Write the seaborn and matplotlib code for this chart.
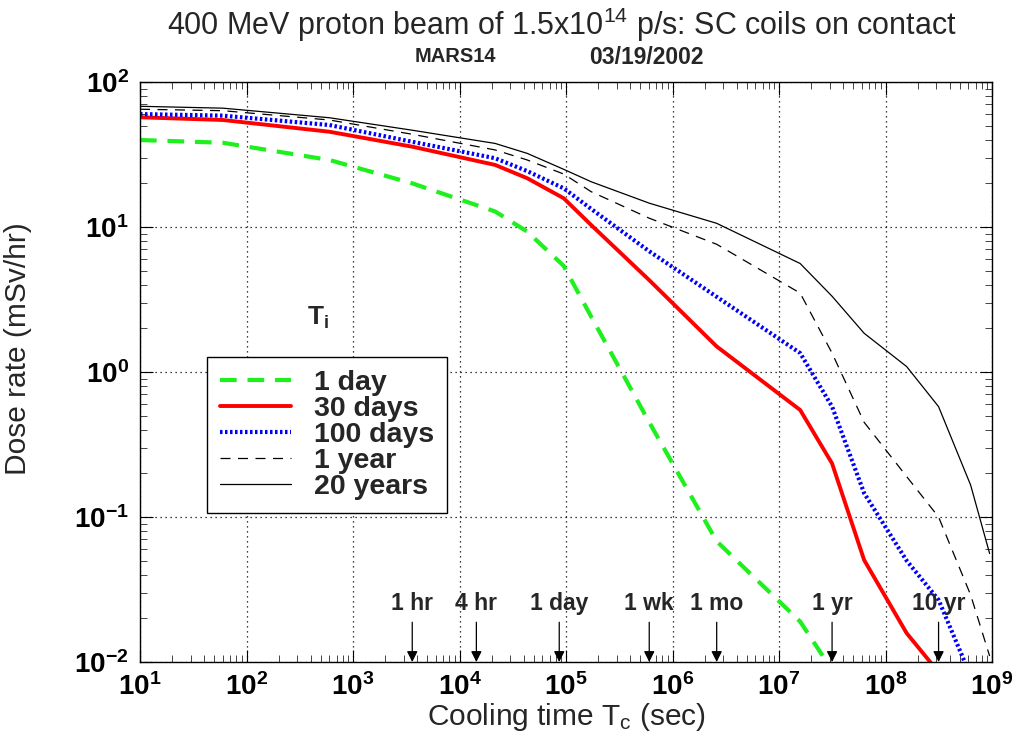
import numpy as np
import pandas as pd
import matplotlib
matplotlib.use("Agg")
import matplotlib.pyplot as plt
import seaborn as sns
from matplotlib.ticker import FixedLocator, FuncFormatter, LogLocator, NullFormatter

# ---- data ----
times = [10, 60, 600, 3600, 21600, 43200, 95000, 172800, 604800, 2.6e6,
         1.58e7, 3.15e7, 6.3e7, 1.58e8, 3.15e8, 6.3e8, 9.5e8]
dose_1day = [39.8, 38.1, 29.0, 20.0, 12.8, 9.3, 5.4, 2.4, 0.45, 0.068, 0.019, 0.0088]
dose_30days = [57.1, 54.7, 45.4, 35.8, 26.8, 21.7, 15.8, 10.3, 4.3, 1.5, 0.547,
               0.234, 0.0505, 0.0158, 0.0085]
dose_100days = [60.1, 58.6, 50.5, 38.7, 29.8, 24.3, 18.5, 13.3, 6.8, 3.3, 1.35,
                0.577, 0.146, 0.05, 0.0268, 0.008]
dose_1year = [64.9, 63.4, 54.7, 43.6, 34.0, 29.0, 23.2, 17.5, 11.5, 7.6, 3.5,
              1.35, 0.45, 0.19, 0.1, 0.029, 0.011]
dose_20years = [68.0, 66.0, 56.7, 46.5, 37.7, 32.2, 25.0, 20.5, 14.6, 10.6, 5.6,
                3.33, 1.85, 1.09, 0.577, 0.166, 0.056]
series_labels = ["1 day", "30 days", "100 days", "1 year", "20 years"]

mark_labels = ["1 hr", "4 hr", "1 day", "1 wk", "1 mo", "1 yr", "10 yr"]
mark_times = [3600, 14400, 86400, 604800, 2.6e6, 3.15e7, 3.15e8]

title = "400 MeV proton beam of 1.5x10$^{14}$ p/s: SC coils on contact"

# ---- style ----
sns.set_style("ticks")
from matplotlib import font_manager
names = {f.name for f in font_manager.fontManager.ttflist}
fam = "Liberation Sans" if "Liberation Sans" in names else "DejaVu Sans"
plt.rcParams["font.family"] = [fam, "DejaVu Sans"]
plt.rcParams["mathtext.fontset"] = "custom"
plt.rcParams["mathtext.rm"] = fam
plt.rcParams["mathtext.bf"] = fam + ":bold"
plt.rcParams["mathtext.it"] = fam + ":italic"
plt.rcParams["mathtext.default"] = "regular"

fig = plt.figure(figsize=(10.15, 7.31), dpi=100)
ax = fig.add_axes([140 / 1015, 1 - 662 / 731, 852 / 1015, 580 / 731])

styles = [
    dict(color="#1ef01e", lw=3.0, dashes=(4, 2.6)),
    dict(color="#ff0000", lw=2.8),
    dict(color="#0000ff", lw=3.0, dashes=(0.6, 0.6)),
    dict(color="black", lw=0.9, dashes=(8, 6)),
    dict(color="black", lw=0.9),
]
all_vals = [dose_1day, dose_30days, dose_100days, dose_1year, dose_20years]
for lab, vals, st in zip(series_labels, all_vals, styles):
    df = pd.DataFrame({"t": times[:len(vals)], "d": vals})
    st = dict(st)
    dashes = st.pop("dashes", None)
    line_ax = sns.lineplot(data=df, x="t", y="d", ax=ax, label=lab, **st)
    if dashes is not None:
        line_ax.get_lines()[-1].set_dashes(dashes)

ax.set_xscale("log")
ax.set_yscale("log")
ax.set_xlim(10, 1e9)
ax.set_ylim(1e-2, 1e2)

fmt = FuncFormatter(lambda v, p: r"$\mathbf{10^{%d}}$" % int(round(np.log10(v))))
ax.xaxis.set_major_locator(FixedLocator([10.0 ** k for k in range(1, 10)]))
ax.yaxis.set_major_locator(FixedLocator([10.0 ** k for k in range(-2, 3)]))
ax.xaxis.set_major_formatter(fmt)
ax.yaxis.set_major_formatter(fmt)
ax.xaxis.set_minor_locator(LogLocator(base=10, subs=np.arange(2, 10), numticks=20))
ax.yaxis.set_minor_locator(LogLocator(base=10, subs=np.arange(2, 10), numticks=20))
ax.xaxis.set_minor_formatter(NullFormatter())
ax.yaxis.set_minor_formatter(NullFormatter())
ax.tick_params(which="major", direction="in", length=9, width=0.8,
               top=True, right=True, labelsize=20, pad=8, colors="black")
ax.tick_params(which="minor", direction="in", length=5, width=0.6,
               top=True, right=True)
for s in ax.spines.values():
    s.set_linewidth(1.0)
    s.set_color("black")

ax.grid(True, which="major", linestyle=(0, (1, 3)), color="black", lw=0.9)

ax.set_xlabel("Cooling time T$_c$ (sec)", fontsize=21.5, labelpad=0)
ax.set_ylabel("Dose rate (mSv/hr)", fontsize=21.5)
ax.yaxis.set_label_coords(-0.127, 0.54)

fig.text(562 / 1015, 1 - 25 / 731, title, ha="center", va="center", fontsize=22)
fig.text(455 / 1015, 1 - 57 / 731, "MARS14", ha="center", va="center",
         fontsize=14.5, fontweight="bold")
fig.text(646 / 1015, 1 - 57 / 731, "03/19/2002", ha="center", va="center",
         fontsize=16.5, fontweight="bold")

# legend
leg = ax.legend(loc="upper left", bbox_to_anchor=(67 / 852, 305 / 580),
                frameon=True, fancybox=False, framealpha=1, edgecolor="black",
                prop={"weight": "bold", "size": 20.5}, handlelength=2.5,
                labelspacing=0.0, borderpad=0.45, handletextpad=0.8,
                borderaxespad=0)
leg.get_frame().set_linewidth(1.0)
ax.text(178 / 852, 344 / 580, "T$_i$", transform=ax.transAxes, ha="center",
        va="center", fontsize=19, fontweight="bold")

# time markers
for lab, t in zip(mark_labels, mark_times):
    ax.annotate("", xy=(t, 1e-2), xytext=(t, 0.0188),
                arrowprops=dict(arrowstyle="-|>", color="black", lw=0.9,
                                mutation_scale=16, shrinkA=0, shrinkB=0))
    ax.text(t, 0.0212, lab, ha="center", va="bottom", fontsize=16.5,
            fontweight="bold")

fig.savefig("out.png", dpi=100)
